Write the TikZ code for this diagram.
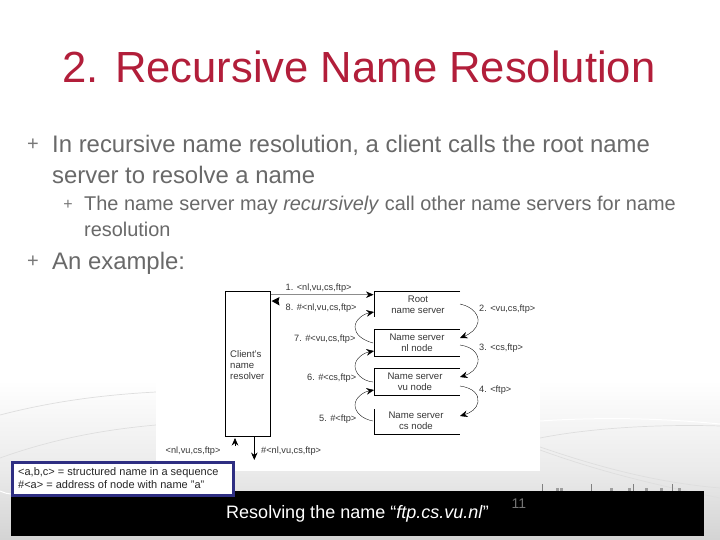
\documentclass[tikz,border=0pt]{standalone}
\usepackage{fontspec}
\setmainfont{Liberation Sans}
\usetikzlibrary{arrows.meta}
\definecolor{titlered}{RGB}{178,30,58}
\definecolor{bodygray}{RGB}{105,105,105}
\definecolor{navybox}{RGB}{46,46,130}
\definecolor{diagink}{RGB}{55,55,55}
\tikzset{
  x=1pt,y=-1pt,
  srv/.style={draw=black,line width=0.8pt},
  lab/.style={font=\fontsize{9.2}{10}\selectfont,text=diagink,inner sep=0pt,anchor=west},
  ctr/.style={font=\fontsize{9.6}{11}\selectfont,text=diagink,align=center,inner sep=0pt},
  tip/.style={-{Stealth[length=7.5pt,width=6.5pt,color=black]}},
  curve/.style={tip,draw=black,line width=0.35pt},
  bodyA/.style={font=\fontsize{23.9}{28}\selectfont,text=bodygray,inner sep=0pt,anchor=west},
  bodyB/.style={font=\fontsize{19.9}{24}\selectfont,text=bodygray,inner sep=0pt,anchor=west},
  bullet/.style={text=bodygray!90,inner sep=0pt},
  swoosh/.style={draw=black!13,line width=0.7pt},
  swooshw/.style={draw=white,line width=1pt},
  tick/.style={draw=black!50,line width=0.9pt},
}
\begin{document}
\begin{tikzpicture}
\useasboundingbox (0,0) rectangle (720,540);
% background
\fill[white] (0,0) rectangle (720,540);
\shade[top color=white,bottom color=black!8] (0,380) rectangle (720,470);
\shade[top color=black!8,bottom color=black!17] (0,470) rectangle (720,540);
\draw[swoosh] (540,438) .. controls (590,428) and (660,424) .. (720,426);
\draw[swooshw] (540,421) .. controls (600,417) and (660,418) .. (720,424);
\draw[swoosh] (540,447) .. controls (590,464) and (650,482) .. (720,488);
\draw[swoosh] (540,450) .. controls (590,468) and (640,482) .. (720,498);
\draw[swoosh] (0,415) .. controls (50,402) and (100,395) .. (156,392);
\draw[swoosh] (0,458) .. controls (50,440) and (100,430) .. (156,425);
\draw[swooshw] (0,491) .. controls (5,493) and (8,494) .. (11,494);
\fill[white] (156,288) rectangle (540,471);
% marks above the band
\draw[tick] (542,484) -- (542,491);
\draw[tick] (591,484) -- (591,491);
\draw[tick] (633,484) -- (633,491);
\draw[tick] (672,484) -- (672,491);
\foreach \mx in {556,560,610,628,645,660,678}{\fill[black!38] (\mx,488) rectangle ++(3,3);}
% black band
\fill[black] (11,491) rectangle (704,536);
% title
\node[font=\fontsize{43.6}{50}\selectfont,text=titlered,inner sep=0pt] (title) at (359,67) {2. Recursive Name Resolution};
% bullets
\node[bullet,font=\fontsize{20}{20}\selectfont] (b1) at (33,145) {+};
\node[bodyA] (t1) at (52,145.5) {In recursive name resolution, a client calls the root name};
\node[bodyA] (t1b) at (52,175) {server to resolve a name};
\node[bullet,font=\fontsize{16}{16}\selectfont] (b2) at (68,205) {+};
\node[bodyB] (t2) at (84,205) {The name server may \textit{recursively} call other name servers for name};
\node[bodyB] (t2b) at (84,229) {resolution};
\node[bullet,font=\fontsize{20}{20}\selectfont] (b3) at (33,262) {+};
\node[bodyA] (t3) at (52,263) {An example:};
% resolver box
\node[draw=black,line width=0.8pt,minimum width=45pt,minimum height=145pt,inner sep=0pt] (res) at (247.8,364.2) {};
\node[ctr,align=left,anchor=west] (restxt) at (230,365) {Client's\\name\\resolver};
% server shapes
\coordinate (r1) at (374,291.5); \coordinate (r2) at (374,316.5);
\draw[srv] (460,291.5) -- (r1) -- (r2);
\draw[srv] (460,329.5) -- (374,329.5) -- (374,356.5) -- (460,356.5);
\draw[srv] (460,368.5) -- (374,368.5) -- (374,395.5) -- (460,395.5);
\draw[srv] (374,409) -- (374,434.5) -- (460,434.5);
\node[ctr] (root) at (418,304.5) {Root\\name server};
\node[ctr] (nl) at (417,342.5) {Name server\\nl node};
\node[ctr] (vu) at (415,381.5) {Name server\\vu node};
\node[ctr] (cs) at (416,421) {Name server\\cs node};
% anchors for curves
\coordinate (a1) at (373.5,294.7);
\coordinate (a8) at (271.5,301);
\coordinate (s2) at (460,304); \coordinate (e2) at (460,338);
\coordinate (s3) at (460,345); \coordinate (e3) at (460,377);
\coordinate (s4) at (460,386); \coordinate (e4) at (460,416);
\coordinate (s7) at (373,343); \coordinate (e7) at (374,312);
\coordinate (s6) at (373,382); \coordinate (e6) at (374,351);
\coordinate (s5) at (373,421); \coordinate (e5) at (374,390);
% straight arrows
\draw[tip,draw=black!45,line width=0.5pt] (res.east |- a1) -- (a1);
\fill[black] (a8) -- (279.5,297) -- (278.5,301) -- (279.5,305.5) -- cycle;
% curved arrows
\draw[curve] (s2) .. controls (474,307) and (479,316) .. (478,322) .. controls (477,329) and (470,334) .. (e2);
\draw[curve] (s3) .. controls (474,347) and (479,355) .. (478,362) .. controls (477,369) and (470,374) .. (e3);
\draw[curve] (s4) .. controls (474,388) and (479,395) .. (478,402) .. controls (477,409) and (470,413) .. (e4);
\draw[curve] (s7) .. controls (362,340) and (355,334) .. (355,327) .. controls (355,320) and (363,314) .. (e7);
\draw[curve] (s6) .. controls (362,381) and (355,373) .. (355,366) .. controls (355,359) and (363,353) .. (e6);
\draw[curve] (s5) .. controls (362,419) and (355,412) .. (355,405) .. controls (355,398) and (363,392) .. (e5);
% step labels
\node[lab] (l1) at (285.5,288) {1. <nl,vu,cs,ftp>};
\node[lab] (l8) at (285.5,308.5) {8. \#<nl,vu,cs,ftp>};
\node[lab] (l7) at (294,339) {7. \#<vu,cs,ftp>};
\node[lab] (l6) at (307,378) {6. \#<cs,ftp>};
\node[lab] (l5) at (319,419) {5. \#<ftp>};
\node[lab] (l2) at (479,309) {2. <vu,cs,ftp>};
\node[lab] (l3) at (479,348.5) {3. <cs,ftp>};
\node[lab] (l4) at (479,390) {4. <ftp>};
% bottom arrows
\coordinate (inS) at (235,446);
\coordinate (outE) at (254.3,460);
\draw[tip,draw=black,line width=0.7pt] (inS) -- (235,438);
\draw[tip,draw=black,line width=0.7pt] (254.3,437) -- (outE);
\node[lab] (lin) at (165.5,451) {<nl,vu,cs,ftp>};
\node[lab] (lout) at (261,451) {\#<nl,vu,cs,ftp>};
% legend
\node[draw=navybox,fill=white,line width=2.4pt,minimum width=221pt,minimum height=33pt,inner sep=0pt,outer sep=0pt] (legend) at (123,479) {};
\node[font=\fontsize{11}{13}\selectfont,text=black!85,align=left,anchor=west,inner sep=0pt] (legendtxt) at (18,478.5) {<a,b,c> = structured name in a sequence\\\#<a> = address of node with name "a"};
% caption
\node[font=\fontsize{18}{20}\selectfont,text=white,inner sep=0pt] (cap) at (357.5,514) {Resolving the name “\textit{ftp.cs.vu.nl}”};
\node[font=\fontsize{14}{16}\selectfont,text=black!55,inner sep=0pt] (num) at (519,504) {11};
\end{tikzpicture}
\end{document}
